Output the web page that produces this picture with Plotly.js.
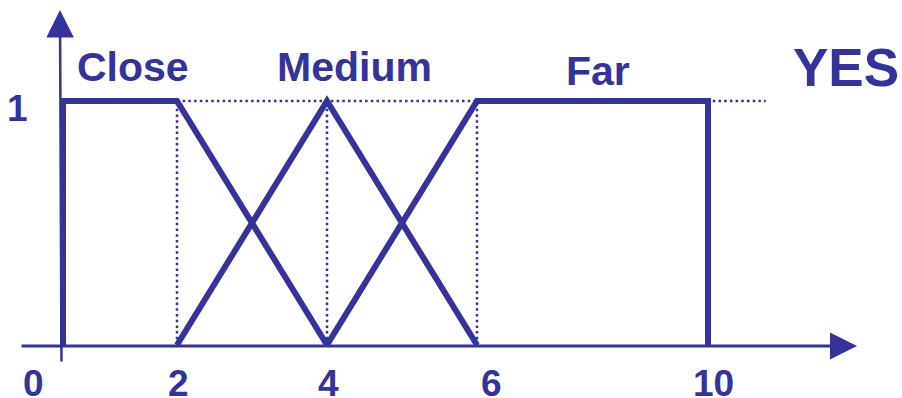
<!DOCTYPE html>
<html><head><meta charset="utf-8">
<script src="https://cdn.plot.ly/plotly-3.0.1.min.js"></script>
<style>html,body{margin:0;padding:0;background:#fff}</style>
</head><body><div id="chart" style="width:902px;height:398px"></div>
<script>
// ---- data ----
const categories = ['Close', 'Medium', 'Far'];
const closeX = [0, 0, 2, 4];
const closeY = [0, 1, 1, 0];
const mediumX = [2, 4, 6];
const mediumY = [0, 1, 0];
const farX = [4, 6, 10, 10];
const farY = [0, 1, 1, 0];
const tickValues = [0, 2, 4, 6, 10];
const tickLabels = ['0', '2', '4', '6', '10'];
const yTickValues = [1];
const yTickLabels = ['1'];
const outputLabel = 'YES';
const guideLevelX = [2, 11];
const guideVerticalX = [2, 4, 6];

// ---- the drawing's axis is not to scale: nominal value -> axis position ----
const warpIn = [0, 2, 4, 6, 10];
const warpOut = [0.48, 2, 4, 6, 9.08];
function warp(v) {
  if (v === null) return null;
  const n = warpIn.length;
  for (let i = 0; i < n - 1; i++) {
    if (v <= warpIn[i + 1] || i === n - 2) {
      const t = (v - warpIn[i]) / (warpIn[i + 1] - warpIn[i]);
      return warpOut[i] + t * (warpOut[i + 1] - warpOut[i]);
    }
  }
}

const COLOR = '#333399';
const FONT = 'Liberation Sans, Arial, Helvetica, sans-serif';

// vertical guides
const gvx = [], gvy = [];
guideVerticalX.forEach(v => { gvx.push(v, v, null); gvy.push(0, 1, null); });

const guideStyle = {color: COLOR, width: 2.5, dash: '2.5px,3.2px'};
const mfStyle = {color: COLOR, width: 6};

const traces = [
  {x: guideLevelX.map(warp), y: [1, 1], mode: 'lines', line: guideStyle, hoverinfo: 'skip'},
  {x: gvx.map(warp), y: gvy, mode: 'lines', line: guideStyle, hoverinfo: 'skip'},
  {x: closeX.map(warp), y: closeY, mode: 'lines', line: mfStyle, name: categories[0]},
  {x: mediumX.map(warp), y: mediumY, mode: 'lines', line: mfStyle, name: categories[1]},
  {x: farX.map(warp), y: farY, mode: 'lines', line: mfStyle, name: categories[2]}
];

// label placement (paper fractions, style only)
const W = 902, H = 398;
const px = p => p / W, py = p => 1 - p / H;
const catLabelPos = [[132.5, 66.5], [354, 67], [597.5, 71]];
const annotations = [];
categories.forEach((c, i) => {
  annotations.push({text: c, xref: 'paper', yref: 'paper', x: px(catLabelPos[i][0]), y: py(catLabelPos[i][1]),
    xanchor: 'center', yanchor: 'middle', showarrow: false,
    font: {family: FONT, size: 41, color: COLOR, weight: 'bold'}});
});
annotations.push({text: outputLabel, xref: 'paper', yref: 'paper', x: px(846), y: py(67.5),
  xanchor: 'center', yanchor: 'middle', showarrow: false,
  font: {family: FONT, size: 53, color: COLOR, weight: 'bold'}});

const tickShift = [-30, 1, 1, 14, 5];
tickValues.forEach((v, i) => {
  annotations.push({text: tickLabels[i], xref: 'x', yref: 'y', x: warp(v), y: 0,
    xshift: tickShift[i], yshift: -38.5, xanchor: 'center', yanchor: 'middle', showarrow: false,
    font: {family: FONT, size: 37, color: COLOR, weight: 'bold'}});
});
yTickValues.forEach((v, i) => {
  annotations.push({text: yTickLabels[i], xref: 'paper', yref: 'y', x: px(17.5), y: v,
    yshift: -7.5, xanchor: 'center', yanchor: 'middle', showarrow: false,
    font: {family: FONT, size: 37, color: COLOR, weight: 'bold'}});
});

// axis arrows
annotations.push({xref: 'paper', yref: 'paper', x: px(857), y: py(346), ax: -837, ay: 0,
  showarrow: true, arrowhead: 2, arrowwidth: 3, arrowsize: 1.8, arrowcolor: COLOR, text: ''});
annotations.push({xref: 'paper', yref: 'paper', x: px(60), y: py(10), ax: 1.5, ay: 353,
  showarrow: true, arrowhead: 2, arrowwidth: 2.5, arrowsize: 2.2, arrowcolor: COLOR, text: ''});
annotations.push({xref: 'paper', yref: 'paper', x: px(846), y: py(394), ax: 0, ay: 40,
  showarrow: true, arrowhead: 2, arrowwidth: 2.5, arrowsize: 2.2, arrowcolor: COLOR, text: ''});

const layout = {
  width: W, height: H,
  margin: {l: 0, r: 0, t: 0, b: 0, pad: 0},
  paper_bgcolor: '#ffffff', plot_bgcolor: '#ffffff',
  showlegend: false,
  xaxis: {range: [-0.36, 11.6667], visible: false, fixedrange: true},
  yaxis: {range: [-0.2172, 1.41393], visible: false, fixedrange: true},
  annotations: annotations
};

Plotly.newPlot('chart', traces, layout, {displayModeBar: false, staticPlot: true});
</script>
</body></html>
